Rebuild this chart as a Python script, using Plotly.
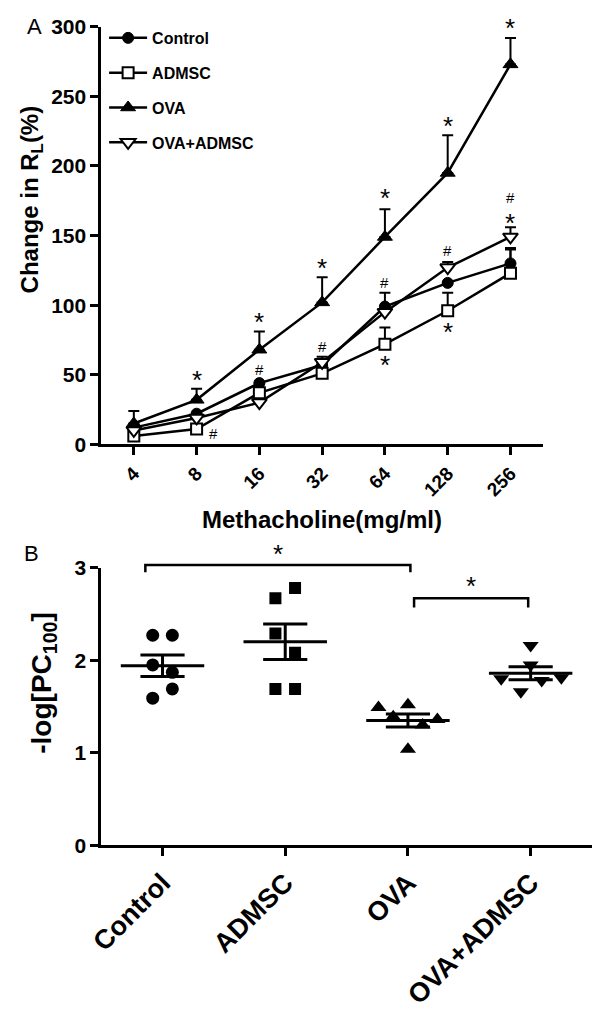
import plotly.graph_objects as go
import numpy as np

# ---------------- Panel A data ----------------
doses = ["4", "8", "16", "32", "64", "128", "256"]
series_names = ["Control", "ADMSC", "OVA", "OVA+ADMSC"]
control_vals = [12, 22, 44, 57, 99, 116, 130]
control_err = [None, None, None, None, 10, None, 11]
admsc_vals = [6, 11, 37, 51, 72, 96, 123]
admsc_err = [None, None, None, None, 12, 13, 17]
ova_vals = [15, 32, 68, 102, 149, 195, 273]
ova_err = [9, 8, 13, 18, 20, 27, 19]
ovaadmsc_vals = [10, 19, 30, 59, 95, 127, 149]
ovaadmsc_err = [None, None, None, 4, None, 4, 7]

# significance marks (panel A): dose index, value, symbol, sideways nudge
sig_a_idx = [1, 2, 3, 4, 5, 6, 1, 2, 3, 4, 5, 6, 6, 4, 5]
sig_a_val = [46, 88, 127, 177, 229, 299, 8, 54, 70, 116, 139, 177, 159, 57, 81]
sig_a_sym = ["*", "*", "*", "*", "*", "*", "#", "#", "#", "#", "#", "#", "*", "*", "*"]
sig_a_dx = [0, 0, 0, 0, 0, 0, 0.27, 0, 0, 0, 0, 0, 0, 0, 0]

# ---------------- Panel B data ----------------
groups = ["Control", "ADMSC", "OVA", "OVA+ADMSC"]
control_pts = [2.27, 2.27, 1.59, 1.69, 1.87, 1.95]
admsc_pts = [2.67, 2.78, 1.69, 1.69, 2.29, 2.08]
ova_pts = [1.49, 1.52, 1.36, 1.04, 1.39, 1.30]
ovaadmsc_pts = [2.16, 1.80, 1.66, 1.81, 1.78, 1.95]
# horizontal spread of the points within each column
control_dx = [-0.08, 0.08, -0.08, 0.08, 0.08, -0.08]
admsc_dx = [-0.08, 0.08, -0.08, 0.08, -0.08, 0.08]
ova_dx = [-0.24, 0.0, 0.24, 0.0, -0.12, 0.12]
ovaadmsc_dx = [0.0, -0.24, -0.08, 0.25, 0.09, 0.0]
# significance brackets: from group, to group, bracket level, tick-down level, star level
brk_from = [-0.14, 2.05]
brk_to = [2.02, 2.98]
brk_top = [3.03, 2.67]
brk_bot = [2.95, 2.57]
brk_star = [3.15, 2.80]

FONT = "Liberation Sans"
OFF = 8  # default page body margin
W, H = 600 - 2 * OFF, 1018 - 2 * OFF


def px(x):
    return (x - OFF) / W


def py(y):
    return 1 - (y - OFF) / H


fig = go.Figure()

# ---------- Panel A traces ----------
a_series = [
    (control_vals, control_err, dict(symbol="circle", size=11, color="black", line=dict(color="black", width=1))),
    (admsc_vals, admsc_err, dict(symbol="square", size=11, color="white", line=dict(color="black", width=2))),
    (ova_vals, ova_err, dict(symbol="triangle-up", size=13, color="black", line=dict(color="black", width=1))),
    (ovaadmsc_vals, ovaadmsc_err, dict(symbol="triangle-down", size=13, color="white", line=dict(color="black", width=2))),
]
xs_a = list(range(len(doses)))
for name, (vals, err, mk) in zip(series_names, a_series):
    fig.add_trace(go.Scatter(
        x=xs_a, y=vals, name=name, mode="lines+markers",
        line=dict(color="black", width=2.5),
        marker=mk,
        error_y=dict(type="data", symmetric=False, array=err,
                     arrayminus=[0] * len(vals), color="black", thickness=2, width=5.5),
        xaxis="x", yaxis="y", legendgroup=name, cliponaxis=False,
    ))

# ---------- Panel B traces ----------
b_sets = [
    (control_pts, control_dx, dict(symbol="circle", size=13, color="black")),
    (admsc_pts, admsc_dx, dict(symbol="square", size=12, color="black")),
    (ova_pts, ova_dx, dict(symbol="triangle-up", size=14, color="black")),
    (ovaadmsc_pts, ovaadmsc_dx, dict(symbol="triangle-down", size=14, color="black")),
]
MEAN_HW = 0.34
SEM_HW = 0.18
for i, (pts, dx, mk) in enumerate(b_sets):
    fig.add_trace(go.Scatter(
        x=[i + d for d in dx], y=pts, mode="markers", marker=mk,
        xaxis="x2", yaxis="y2", showlegend=False,
    ))
    arr = np.array(pts)
    m = arr.mean()
    sem = arr.std(ddof=1) / np.sqrt(len(arr))
    lx = [i - MEAN_HW, i + MEAN_HW, None, i - SEM_HW, i + SEM_HW, None,
          i - SEM_HW, i + SEM_HW, None, i, i]
    ly = [m, m, None, m + sem, m + sem, None, m - sem, m - sem, None, m - sem, m + sem]
    fig.add_trace(go.Scatter(
        x=lx, y=ly, mode="lines", line=dict(color="black", width=3),
        xaxis="x2", yaxis="y2", showlegend=False, hoverinfo="skip",
    ))

# panel geometry (screen pixels)
A_X0, A_X1, A_Y0, A_Y1 = 90, 542, 445, 15
B_X0, B_X1, B_Y0, B_Y1 = 90, 593, 858, 572
B_YMAX = 3.0
b_dom = [py(B_Y0), py(B_Y1)]


def b_val_to_paper(v):
    return b_dom[0] + v / B_YMAX * (b_dom[1] - b_dom[0])


shapes = []
annotations = []
for x0, x1, yt, yb, ys in zip(brk_from, brk_to, brk_top, brk_bot, brk_star):
    shapes.append(dict(
        type="path", xref="x2", yref="paper",
        path=f"M {x0},{b_val_to_paper(yb)} L {x0},{b_val_to_paper(yt)} "
             f"L {x1},{b_val_to_paper(yt)} L {x1},{b_val_to_paper(yb)}",
        line=dict(color="black", width=2.5),
    ))
    annotations.append(dict(
        x=(x0 + x1) / 2, y=b_val_to_paper(ys), xref="x2", yref="paper", text="*",
        showarrow=False, font=dict(family=FONT, size=26, color="black"),
        xanchor="center", yanchor="middle",
    ))

for xi, yv, s, d in zip(sig_a_idx, sig_a_val, sig_a_sym, sig_a_dx):
    annotations.append(dict(
        x=xi + d, y=yv, xref="x", yref="y", text=s, showarrow=False,
        font=dict(family=FONT, size=26 if s == "*" else 15, color="black"),
        xanchor="center", yanchor="middle",
    ))

# panel letters & titles
annotations += [
    dict(x=px(12), y=py(15), xref="paper", yref="paper", text="A", showarrow=False,
         font=dict(family=FONT, size=22, color="black"), xanchor="left", yanchor="middle"),
    dict(x=px(9), y=py(557), xref="paper", yref="paper", text="B", showarrow=False,
         font=dict(family=FONT, size=22, color="black"), xanchor="left", yanchor="middle"),
    dict(x=px(316), y=py(522), xref="paper", yref="paper", text="<b>Methacholine(mg/ml)</b>",
         showarrow=False, font=dict(family=FONT, size=24, color="black"),
         xanchor="center", yanchor="middle"),
    dict(x=px(19), y=py(193), xref="paper", yref="paper", text="<b>Change in R<sub>L</sub>(%)</b>",
         showarrow=False, textangle=-90, font=dict(family=FONT, size=24, color="black"),
         xanchor="center", yanchor="middle"),
    dict(x=px(31), y=py(690), xref="paper", yref="paper", text="<b>-log[PC<sub>100</sub>]</b>",
         showarrow=False, textangle=-90, font=dict(family=FONT, size=28, color="black"),
         xanchor="center", yanchor="middle"),
]

axis_common = dict(showline=True, linecolor="black", linewidth=2.5, ticks="outside",
                   tickcolor="black", tickwidth=2.5, ticklen=8, showgrid=False,
                   zeroline=False, mirror=False)

fig.update_layout(
    width=W, height=H,
    margin=dict(l=0, r=0, t=0, b=0),
    paper_bgcolor="white", plot_bgcolor="white",
    font=dict(family=FONT, color="black"),
    xaxis=dict(domain=[px(A_X0), px(A_X1)], range=[-0.52, 6.52],
               tickmode="array", tickvals=xs_a, ticktext=doses, tickangle=-45,
               tickfont=dict(family=FONT, size=19, weight="bold"),
               anchor="y", **axis_common),
    yaxis=dict(domain=[py(A_Y0), py(A_Y1)], range=[0, 300], dtick=50,
               tickfont=dict(family=FONT, size=21, weight="bold"),
               anchor="x", **axis_common),
    xaxis2=dict(domain=[px(B_X0), min(1.0, px(B_X1))], range=[-0.5, 3.5],
                tickmode="array", tickvals=list(range(len(groups))), ticktext=groups,
                tickangle=-45, tickfont=dict(family=FONT, size=27, weight="bold"),
                anchor="y2", **axis_common),
    yaxis2=dict(domain=[py(B_Y0), py(B_Y1)], range=[0, B_YMAX], dtick=1,
                tickfont=dict(family=FONT, size=21, weight="bold"),
                anchor="x2", **axis_common),
    legend=dict(x=px(93), y=py(9), xanchor="left", yanchor="top",
                font=dict(family=FONT, size=16, weight="bold"),
                tracegroupgap=11, itemwidth=38, bgcolor="rgba(0,0,0,0)"),
    shapes=shapes,
    annotations=annotations,
    showlegend=True,
)

fig.write_html("out.html", config={"displayModeBar": False})
